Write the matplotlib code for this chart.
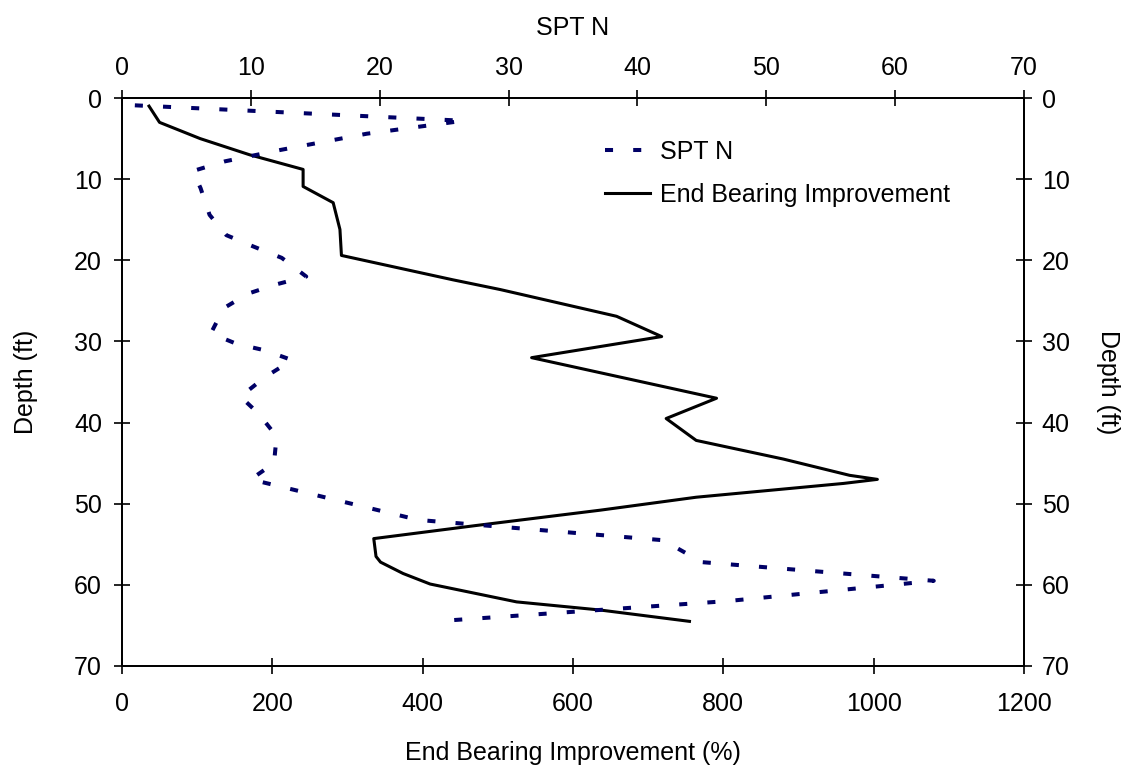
import numpy as np
import matplotlib
matplotlib.use('Agg')
import matplotlib.pyplot as plt

plt.rcParams['font.family'] = ['Liberation Sans', 'DejaVu Sans']
plt.rcParams['font.size'] = 18

# End Bearing Improvement (%) vs depth (ft)
ebi_depth = [1, 3, 5, 7, 8.8, 10.9, 12.9, 16.2, 19.4, 22.4, 23.6, 26.9, 29.4, 32.0,
             37.0, 39.5, 42.2, 44.5, 46.5, 47.0, 47.5, 49.2, 50.8, 52.7, 54.3, 56.5,
             57.2, 58.6, 59.9, 62.1, 63.1, 64.5]
ebi = [36, 50, 104, 170, 241, 241, 281, 290, 292, 440, 503, 658, 718, 545,
       791, 724, 764, 880, 968, 1005, 960, 764, 636, 470, 335, 338,
       344, 374, 410, 525, 636, 755]

# SPT N vs depth (ft)
spt_depth = [0.9, 2.8, 4.4, 6.4, 7.8, 9.0, 11.1, 14.4, 16.9, 18.3, 19.7, 22.0,
             23.0, 24.1, 25.9, 29.0, 30.3, 31.1, 32.3, 34.4, 36.8, 38.9, 41.7,
             45.0, 47.0, 52.0, 54.5, 57.2, 59.5, 59.9, 62.0, 64.5]
spt_n = [1.0, 26.5, 19.0, 12.3, 8.0, 5.5, 6.1, 6.8, 8.1, 10.2, 12.4, 14.3,
         11.9, 9.8, 7.9, 6.9, 8.9, 11.1, 13.2, 11.1, 9.2, 10.6, 12.0,
         11.8, 10.0, 23.0, 42.0, 45.0, 63.0, 60.5, 47.0, 24.3]

fig = plt.figure(figsize=(11.23, 7.67), dpi=100)
ax = fig.add_axes([0.1086, 0.1317, 0.8032, 0.7405])
ax2 = ax.twiny()

l1, = ax.plot(ebi, ebi_depth, color='black', lw=2.2, label='End Bearing Improvement')
l2, = ax2.plot(spt_n, spt_depth, color='#000066', lw=2.9, linestyle=(0, (2, 5)),
               dash_capstyle='butt', label='SPT N')

ax.set_xlim(0, 1200)
ax.set_xticks(range(0, 1201, 200))
ax2.set_xlim(0, 70)
ax2.set_xticks(range(0, 71, 10))
ax.set_ylim(70, 0)
ax.set_yticks(range(0, 71, 10))

ax.set_xlabel('End Bearing Improvement (%)', labelpad=18)
ax2.set_xlabel('SPT N', labelpad=15)
ax.set_ylabel('Depth (ft)', labelpad=26)

sec = ax.secondary_yaxis('right')
sec.set_yticks(range(0, 71, 10))
sec.set_ylabel('Depth (ft)', rotation=270, labelpad=36)
sec.tick_params(direction='inout', length=11.5, width=1.2, pad=7)

for a in (ax, ax2):
    a.tick_params(direction='inout', length=11.5, width=1.2)
    for s in a.spines.values():
        s.set_linewidth(1.3)
ax.tick_params(axis='x', pad=13)
ax.tick_params(axis='y', pad=8.6)
ax2.tick_params(axis='x', pad=7.5)
sec.spines['right'].set_linewidth(1.3)

fig.legend([l2, l1], ['SPT N', 'End Bearing Improvement'], frameon=False,
           loc='upper left', bbox_to_anchor=(0.5185, 0.847), handlelength=1.8,
           handletextpad=0.4, labelspacing=0.75)

fig.savefig('out.png', dpi=100)
